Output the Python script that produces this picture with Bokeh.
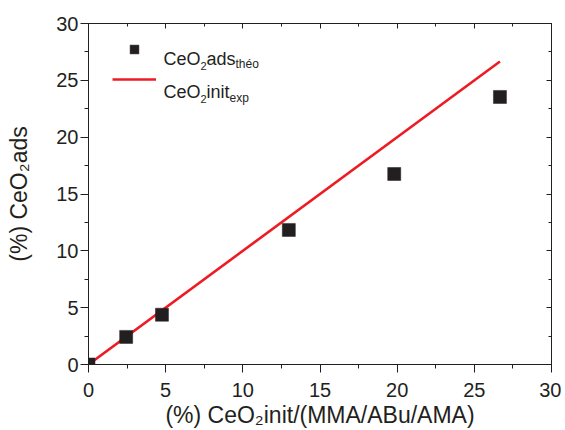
from bokeh.plotting import figure
from bokeh.models import (Range1d, LinearAxis, SingleIntervalTicker, Label,
                          Legend, LegendItem)
from bokeh.embed import file_html
from bokeh.resources import INLINE

# ---- data ----
x_theo = [0.0, 2.44, 4.76, 12.98, 19.81, 26.66]
y_theo = [0.0, 2.43, 4.38, 11.84, 16.76, 23.54]
x_exp = [0.0, 26.66]
y_exp = [0.0, 26.66]
tick_interval = 5
x_lim = (0, 30)
y_lim = (0, 30)
x_title = "(%) CeO\u2082init/(MMA/ABu/AMA)"
y_title = "(%) CeO\u2082ads"

DARK = "#231f20"
RED = "#ed1c24"
FONT = "Liberation Sans"

p = figure(frame_width=463, frame_height=341,
           min_border_left=88, min_border_top=23, min_border_right=10,
           min_border_bottom=64,
           x_range=Range1d(*x_lim), y_range=Range1d(*y_lim),
           output_backend="svg", toolbar_location=None,
           x_axis_type=None, y_axis_type=None)
p.grid.visible = False
p.outline_line_color = DARK
p.outline_line_width = 1
p.background_fill_color = "white"
p.border_fill_color = "white"


def make_axis(show_labels, outward):
    ax = LinearAxis(ticker=SingleIntervalTicker(interval=tick_interval, num_minor_ticks=2))
    ax.axis_line_color = DARK
    ax.major_tick_line_color = DARK
    ax.minor_tick_line_color = DARK
    ax.axis_line_width = 1
    ax.major_tick_line_width = 1
    ax.minor_tick_line_width = 1
    if outward:
        ax.major_tick_out = 8
        ax.major_tick_in = 0
        ax.minor_tick_out = 4
        ax.minor_tick_in = 0
    else:
        ax.major_tick_out = 0
        ax.major_tick_in = 5
        ax.minor_tick_out = 0
        ax.minor_tick_in = 3
    if show_labels:
        ax.major_label_text_font = FONT
        ax.major_label_text_font_size = "20px"
        ax.major_label_text_color = DARK
        ax.axis_label_text_font = FONT
        ax.axis_label_text_font_size = "23px"
        ax.axis_label_text_font_style = "normal"
        ax.axis_label_text_color = DARK
    else:
        ax.major_label_text_font_size = "1px"
        ax.major_label_text_color = None
        ax.major_label_standoff = 0
    return ax


bottom = make_axis(True, True)
bottom.major_label_standoff = 10
bottom.axis_label = x_title
bottom.axis_label_standoff = 2
left = make_axis(True, True)
left.major_label_standoff = 2
left.axis_label = y_title
left.axis_label_standoff = 21
top = make_axis(False, False)
right = make_axis(False, False)
p.add_layout(bottom, "below")
p.add_layout(left, "left")
p.add_layout(top, "above")
p.add_layout(right, "right")

# ---- data glyphs ----
ln = p.line(x_exp, y_exp, line_color=RED, line_width=2.6)
sq = p.scatter(x_theo, y_theo, marker="square", size=13,
               fill_color=DARK, line_color=DARK, line_width=0.5)

# ---- legend swatches (text drawn separately for subscripts) ----
legend = Legend(items=[LegendItem(label=" ", renderers=[sq]),
                       LegendItem(label=" ", renderers=[ln])],
                location=(24, 274), orientation="vertical",
                glyph_width=44, glyph_height=22, spacing=8,
                padding=0, margin=0, label_standoff=0,
                label_width=0, label_height=0,
                label_text_font_size="1px", label_text_color=None,
                border_line_color=None, background_fill_alpha=0)
p.add_layout(legend, "center")


def lab(x, y, text, size):
    p.add_layout(Label(x=x, y=y, x_units="screen", y_units="screen",
                       text=text, text_font=FONT, text_font_size=size,
                       text_color=DARK, text_align="left",
                       text_baseline="alphabetic"))


# legend texts (frame-relative screen units)
lab(75, 306, "CeO", "18px")
lab(112, 299, "2", "11px")
lab(118, 306, "ads", "18px")
lab(147, 301, "théo", "12px")

lab(75, 273, "CeO", "18px")
lab(112, 266, "2", "11px")
lab(118, 273, "init", "18px")
lab(141, 267, "exp", "12px")

open("out.html", "w").write(file_html(p, INLINE))
